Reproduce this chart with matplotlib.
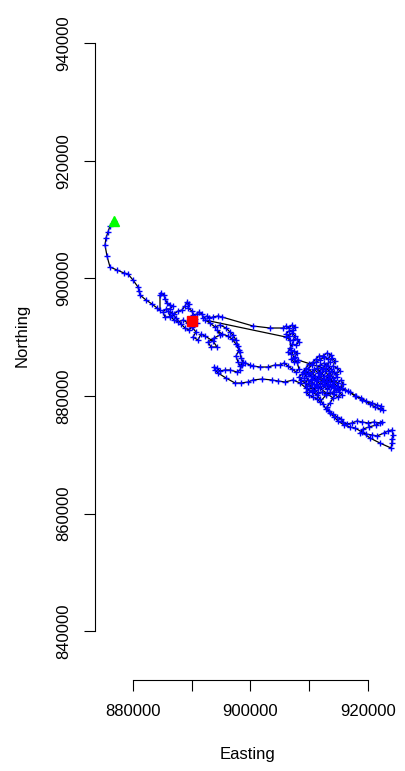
import matplotlib.pyplot as plt
import numpy as np

plt.rcParams['font.family'] = ['Liberation Sans', 'DejaVu Sans']

# track, in order (start = green, end = red)
east_a = [876820, 876140, 875800, 875460, 875290, 875630, 876140, 877330, 878520, 879200,
          880050, 880900, 881070, 881240, 882260, 883280, 884130, 884640]
north_a = [909740, 908890, 907870, 906850, 905660, 903790, 901920, 901410, 900900, 900730,
           899710, 898520, 897840, 897160, 896310, 895630, 894950, 894610]

east_b = [884640, 884810, 885320, 885490, 885830, 886340, 886850, 886340, 885660, 885150,
          885490, 886340, 887020, 887700, 888380, 888890, 889230, 889570, 889400, 890080,
          890250, 890930, 891270, 891780, 891950, 892630, 892970, 893650, 894500, 895180]
north_b = [897160, 897500, 897160, 896480, 895800, 895460, 895290, 894780, 894780, 894270,
           893420, 893420, 893930, 894440, 894610, 895290, 895970, 895630, 894950, 894440,
           893760, 893930, 894270, 893930, 893250, 893590, 893250, 893420, 893590, 893420]

east_c = [900450, 903340, 905550]
north_c = [891890, 891550, 891550]

east_d = [906060, 906570, 907080, 907590, 907250, 906570, 906060, 906570, 907080, 907590,
          907250, 907930, 908270, 907760, 907080, 906740, 906400, 906910, 907420, 907930,
          907590, 906910, 907420, 908100, 912350]
north_d = [891890, 891550, 892060, 891720, 891210, 891040, 890530, 890190, 890700, 890190,
           889510, 889680, 889170, 888660, 888830, 888150, 887470, 887130, 887640, 887300,
           886620, 886280, 885770, 886110, 884750]

east_f = [912860, 913540, 913880, 914390, 914050, 914730, 915240, 914560, 913880, 913200,
          912690, 912010, 911500, 912180, 912860, 913540, 914220, 914900, 915410, 915750,
          915240, 914560, 913710, 913030, 912350, 911500, 910820, 910310, 910990, 910480,
          909800, 910480, 911160, 911840, 912520, 913200, 913710, 913030, 912350, 911670,
          911160, 910650, 909970, 909460, 908950, 909460, 909800, 909290, 908610, 908270,
          908780, 909290, 909970, 910650, 911330, 911840, 912520, 913200, 913880, 914390,
          915070, 915580, 914900, 914220, 913540, 912860, 912180, 911500, 910990, 910480,
          909970, 909460, 909970, 910650, 911330, 911840]
north_f = [885260, 885770, 886450, 885940, 885090, 884750, 884240, 883730, 884070, 883560,
           884240, 883730, 883050, 882540, 882880, 882370, 882710, 882200, 882710, 882030,
           881350, 881010, 881520, 881180, 881690, 881350, 882030, 882710, 883390, 884070,
           884580, 885260, 885770, 886110, 886620, 886280, 886960, 887300, 886790, 886790,
           886280, 885770, 885430, 884750, 884070, 883390, 882710, 882200, 882710, 883220,
           883730, 884240, 883730, 883220, 882540, 882030, 882370, 882030, 881860, 881350,
           880670, 880160, 879820, 880330, 880670, 880330, 880670, 880500, 881010, 881520,
           881010, 880670, 880160, 879820, 879480, 878970]

east_g = [912860, 914050, 914900, 916090, 916940, 917960, 918810, 919660, 920680, 921530,
          922210, 922550, 922040, 921190, 920340, 918980, 917790, 916600, 915580, 914730]
north_g = [880160, 880670, 881180, 881010, 880670, 879990, 879650, 879140, 878800, 878460,
           878290, 877610, 877780, 878120, 878630, 879310, 879990, 880840, 881350, 881690]

east_f2 = [914050, 913370, 912520, 911840, 911330, 911840, 912520, 913200, 913710, 914220,
           914730, 914050, 913370, 912860, 912180, 911500, 910820, 910310, 909800, 909120,
           909630, 910310, 911160, 911840, 912690, 913370, 914220, 913540, 913030, 912350,
           911670, 911160, 910480, 909970, 910650, 911330]
north_f2 = [882370, 883050, 883390, 884070, 884750, 885260, 885600, 885090, 884580, 884070,
            883220, 883050, 884240, 884750, 884580, 883900, 884580, 883390, 883900, 883050,
            881690, 882200, 881860, 881350, 881860, 881520, 881690, 883390, 882540, 882880,
            883390, 882710, 882880, 882200, 880840, 881690]

east_h = [914050, 913540, 913030, 913370, 914050, 914730, 915410, 915750, 916430, 917280,
          918130, 918980, 920000, 921020, 922040, 922380, 921360, 920170, 919150, 918640,
          919660, 920680, 921530, 922720, 923400, 924080, 924250, 924080, 924080, 923910,
          922040, 920340, 918980, 917790, 916940, 915920, 914900, 914220, 913540, 912860,
          912350, 911840, 911330]
north_h = [879650, 878800, 878120, 877440, 876930, 876420, 876080, 875570, 875230, 875400,
           875740, 875570, 875400, 875570, 875400, 875570, 875060, 874720, 874380, 873700,
           873530, 873360, 873190, 873700, 874040, 874210, 873360, 872680, 871990, 871150,
           871990, 872850, 873870, 874550, 874720, 875060, 875740, 876420, 877100, 877780,
           878630, 879480, 880160]

east_i = [910480, 909460, 908440, 907250, 905890, 904700, 903680, 901980, 900450, 899600,
          898410, 897390, 895860, 894500, 893990, 893820, 894330, 894840, 895690, 896540,
          897730, 898240, 898580, 899090, 899940, 900450, 901640, 903000, 904190, 905040,
          905720, 906400, 907080, 907760, 908270]
north_i = [880670, 881350, 882200, 882710, 882370, 882540, 882710, 882880, 882710, 882370,
           882200, 882200, 883050, 883900, 884410, 884920, 884750, 884240, 884410, 884410,
           884070, 884410, 885260, 885600, 885260, 885090, 884920, 884920, 885260, 885260,
           885600, 885090, 884580, 884070, 884580]

east_j = [907930, 907420, 906910, 906740, 906060]
north_j = [885770, 886450, 887810, 889510, 890020]

east_k = [892290, 893140, 893990, 894840, 895860, 896540, 897050, 897560, 897900, 898240,
          898410, 898750, 898240, 897900, 897560, 898070, 897560, 896880, 896200, 895180,
          894330, 894840, 893820, 892800, 893310, 894330, 893650, 892290, 891610, 891100,
          890250, 890760, 890080, 889400, 888550, 887700, 887020, 886340, 886000, 886680,
          887360, 888210, 888890, 889570, 890250, 890930, 890590, 890080]
north_k = [892910, 892400, 891720, 892060, 891550, 890870, 890360, 889510, 888490, 887470,
           886450, 885770, 885090, 885770, 886790, 887810, 888830, 889680, 890190, 890530,
           891210, 890360, 889850, 889170, 888320, 888320, 889340, 890190, 890530, 889510,
           890020, 890870, 891720, 892400, 892910, 892570, 892910, 893590, 894440, 894100,
           893250, 892230, 891550, 891210, 891890, 892400, 893080, 892740]

east = np.concatenate([east_a, east_b, east_c, east_d, east_f, east_g, east_f2,
                       east_h, east_i, east_j, east_k])
north = np.concatenate([north_a, north_b, north_c, north_d, north_f, north_g, north_f2,
                        north_h, north_i, north_j, north_k])

xticks = [880000, 890000, 900000, 910000, 920000]
xticklabels = ['880000', '', '900000', '', '920000']
yticks = [840000, 860000, 880000, 900000, 920000, 940000]

fig = plt.figure(figsize=(4.05, 7.71), dpi=100)
ax = fig.add_axes([95 / 405, 91 / 771, 310 / 405, 680 / 771])

ax.plot(east, north, color='black', lw=0.9, zorder=2)
ax.plot(east, north, ls='none', marker='+', color='blue', ms=4, mew=1.0, zorder=3)
ax.plot(east[0], north[0], ls='none', marker='^', color='#00ff00', ms=7, zorder=4)
ax.plot(east[-1], north[-1], ls='none', marker='s', color='red', ms=6.5, zorder=4)

ax.set_xlim(873591, 926291)
ax.set_ylim(831711, 947311)

for s in ['top', 'right']:
    ax.spines[s].set_visible(False)
ax.spines['left'].set_bounds(yticks[0], yticks[-1])
ax.spines['bottom'].set_bounds(xticks[0], xticks[-1])
ax.spines['left'].set_linewidth(0.8)
ax.spines['bottom'].set_linewidth(0.8)

ax.set_xticks(xticks)
ax.set_xticklabels(xticklabels)
ax.set_yticks(yticks)
ax.set_yticklabels([str(v) for v in yticks], rotation=90, va='center')
ax.tick_params(direction='out', length=8, width=0.8, labelsize=12, pad=9)

fig.text(247.5 / 405, 1 - 755 / 771, 'Easting', ha='center', va='center', fontsize=12)
fig.text(22 / 405, 1 - 335 / 771, 'Northing', ha='center', va='center',
         rotation=90, fontsize=12)

fig.savefig('out.png', dpi=100)
